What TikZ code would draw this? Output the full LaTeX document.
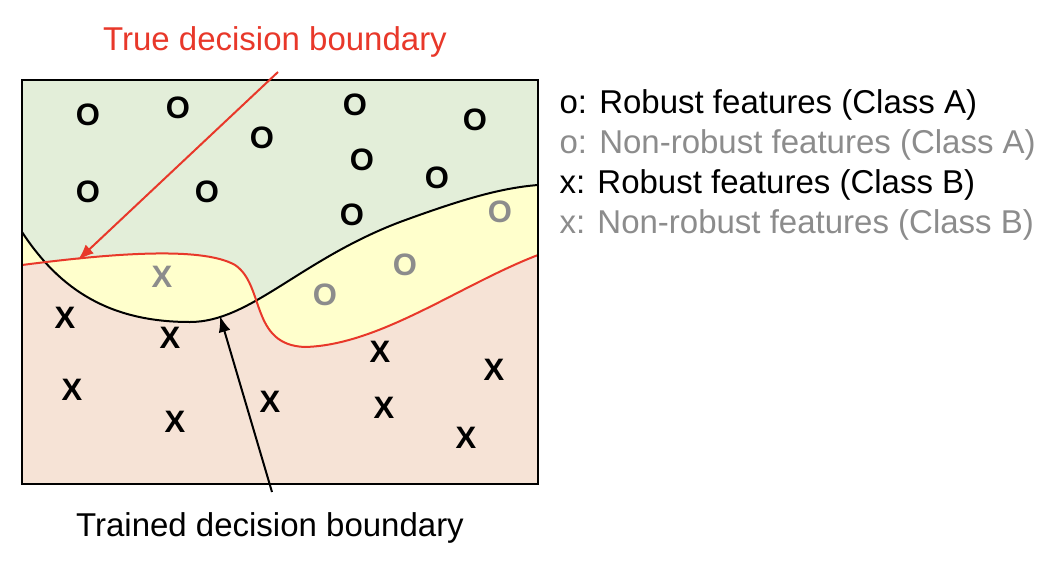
\documentclass[tikz,border=0pt]{standalone}
\usetikzlibrary{arrows.meta}
\usepackage{fontspec}
\setmainfont{Liberation Sans}
\begin{document}
\begin{tikzpicture}[x=1pt,y=-1pt,
 mk/.style={font=\fontsize{31}{34}\selectfont\bfseries},
 gr/.style={text=gray!90},
 lg/.style={anchor=west,font=\fontsize{33}{36}\selectfont},
 lb/.style={font=\fontsize{33}{36}\selectfont}]
\definecolor{gA}{HTML}{E3EED9}\definecolor{yA}{HTML}{FFFFCC}\definecolor{pA}{HTML}{F6E3D6}\definecolor{rd}{HTML}{E8382A}
\useasboundingbox (0,0) rectangle (1064,570);
\def\blk{(22,232) .. controls (60,290) and (110,322) .. (190,322) .. controls (250,322) and (300,260) .. (400,222) .. controls (460,200) and (500,188) .. (538,185)}
\def\red{(22,265) .. controls (100,255) and (200,245) .. (235,265) .. controls (265,285) and (250,345) .. (305,347) .. controls (380,345) and (460,285) .. (538,255)}
\fill[pA] (22,80) rectangle (538,484);
\fill[yA] \blk -- (538,80) -- (22,80) -- cycle;
\fill[yA] \red -- (538,80) -- (22,80) -- cycle;
\begin{scope}
\clip \blk -- (538,80) -- (22,80) -- cycle;
\fill[gA] \red -- (538,80) -- (22,80) -- cycle;
\end{scope}
\draw[line width=2pt] \blk;
\draw[rd,line width=2pt] \red;
\draw[line width=2.2pt] (22,80) rectangle (538,484);
\foreach \p [count=\i] in {(88,115),(178,108),(262,138),(355,105),(475,120),(362,160),(437,178),(88,192),(207,192),(352,215)}
 \node[mk] (o\i) at \p {O};
\foreach \p [count=\i] in {(500,212),(405,265),(325,295)}
 \node[mk,gr] (go\i) at \p {O};
\foreach \p [count=\i] in {(65,318),(170,338),(72,390),(175,422),(270,402),(380,352),(384,408),(494,370),(466,438)}
 \node[mk] (x\i) at \p {X};
\node[mk,gr] (gx1) at (162,277) {X};
\node[lg] (l1) at (556,105) {o: Robust features (Class A)};
\node[lg,gr] (l2) at (556,145) {o: Non-robust features (Class A)};
\node[lg] (l3) at (556,185) {x: Robust features (Class B)};
\node[lg,gr] (l4) at (556,225) {x: Non-robust features (Class B)};
\node[lb,text=rd] (t) at (275,42) {True decision boundary};
\node[lb] (tr) at (270,528) {Trained decision boundary};
\coordinate (rt) at (78,260);
\coordinate (bt) at (220,316);
\coordinate (rs) at (278,72);
\coordinate (bs) at (272,492);
\draw[rd,line width=2pt,-{Latex[length=16pt,width=12pt]}] (rs) -- (rt);
\draw[line width=2pt,-{Latex[length=16pt,width=12pt]}] (bs) -- (bt);
\end{tikzpicture}
\end{document}
